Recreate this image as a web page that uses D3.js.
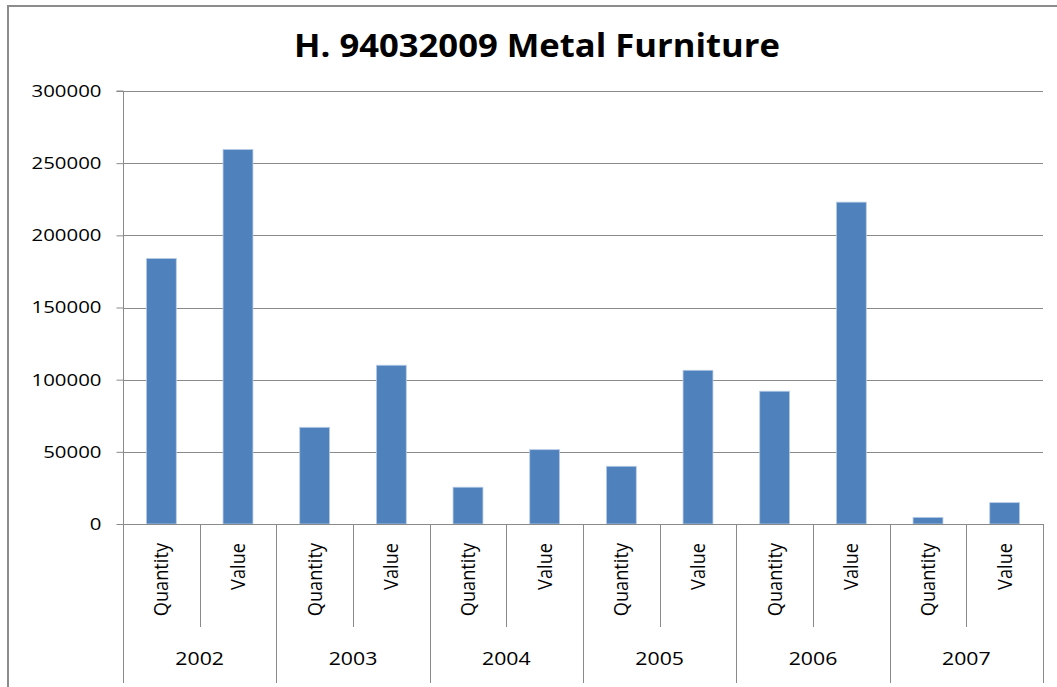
<!DOCTYPE html>
<html>
<head>
<meta charset="utf-8">
<script src="https://cdn.jsdelivr.net/npm/d3@7"></script>
<style>
  html, body { margin: 0; padding: 0; background: #fff; }
  svg { display: block; }
  text { font-family: "Open Sans", "Noto Sans", sans-serif; fill: #000; }
</style>
</head>
<body>
<div id="chart"></div>
<script>
// Yearly import figures for tariff heading 94032009 (metal furniture)
const years = ["2002", "2003", "2004", "2005", "2006", "2007"];
const measures = ["Quantity", "Value"];
const quantityValues = [184000, 67000, 25500, 40000, 92000, 4600];
const valueValues = [259500, 110000, 51500, 106500, 223000, 14800];
const yTicks = [0, 50000, 100000, 150000, 200000, 250000, 300000];
const titleText = "H. 94032009 Metal Furniture";

const W = 1057, H = 687;
const plot = { left: 123, right: 1043, top: 91, bottom: 524 };
const innerTickEnd = 627, groupTickEnd = 683;
const axisGrey = "#8a8a8a";

// flatten into one row per (year, measure)
const rows = [];
years.forEach((yr, i) => {
  rows.push({ key: yr + "|" + measures[0], year: yr, measure: measures[0], v: quantityValues[i] });
  rows.push({ key: yr + "|" + measures[1], year: yr, measure: measures[1], v: valueValues[i] });
});

const svg = d3.select("#chart").append("svg")
  .attr("width", W).attr("height", H);

// chart frame
svg.append("path")
  .attr("d", `M8,${H} L8,6 L${W},6`)
  .attr("fill", "none").attr("stroke", "#8c8c8c").attr("stroke-width", 2);

const x = d3.scaleBand()
  .domain(rows.map(d => d.key))
  .range([plot.left, plot.right])
  .paddingInner(0.61).paddingOuter(0.305);

const slot = d3.scaleBand()
  .domain(rows.map(d => d.key))
  .range([plot.left, plot.right]);

const yearBand = d3.scaleBand()
  .domain(years)
  .range([plot.left, plot.right]);

const y = d3.scaleLinear().domain([0, 300000]).range([plot.bottom, plot.top]);

// horizontal gridlines
svg.append("g").selectAll("line")
  .data(yTicks.filter(t => t > 0))
  .join("line")
  .attr("x1", plot.left).attr("x2", plot.right)
  .attr("y1", d => Math.round(y(d)) + 0.5).attr("y2", d => Math.round(y(d)) + 0.5)
  .attr("stroke", axisGrey).attr("stroke-width", 1);

// value axis
const yAxis = svg.append("g")
  .attr("transform", `translate(${plot.left + 0.5},0)`)
  .call(d3.axisLeft(y).tickValues(yTicks).tickSize(7).tickPadding(15)
    .tickFormat(d3.format("d")));
yAxis.select(".domain").attr("stroke", axisGrey).attr("d", `M-7,${plot.top}H0V${groupTickEnd}`);
yAxis.selectAll(".tick line").attr("stroke", axisGrey);
yAxis.selectAll(".tick text")
  .attr("x", 0)
  .attr("transform", "translate(-22,0) scale(1.2,1)")
  .style("font-size", "17px").style("font-family", "\"Open Sans\", sans-serif")
  .attr("fill", "#000");

// bars
svg.append("g").selectAll("rect")
  .data(rows)
  .join("rect")
  .attr("x", d => x(d.key))
  .attr("width", x.bandwidth())
  .attr("y", d => y(d.v))
  .attr("height", d => y(0) - y(d.v))
  .attr("fill", "#4f81bd")
  .attr("stroke", "#b9cde5").attr("stroke-width", 0.8);

// category axis baseline
svg.append("line")
  .attr("x1", plot.left).attr("x2", plot.right)
  .attr("y1", plot.bottom + 0.5).attr("y2", plot.bottom + 0.5)
  .attr("stroke", axisGrey);

// separators between measures inside a year
svg.append("g").selectAll("line")
  .data(years)
  .join("line")
  .attr("x1", d => Math.round(yearBand(d) + yearBand.bandwidth() / 2) + 0.5)
  .attr("x2", d => Math.round(yearBand(d) + yearBand.bandwidth() / 2) + 0.5)
  .attr("y1", plot.bottom).attr("y2", innerTickEnd)
  .attr("stroke", axisGrey);

// separators between years
svg.append("g").selectAll("line")
  .data(years.slice(1).concat(["end"]))
  .join("line")
  .attr("x1", d => Math.round(d === "end" ? plot.right : yearBand(d)) + 0.5)
  .attr("x2", d => Math.round(d === "end" ? plot.right : yearBand(d)) + 0.5)
  .attr("y1", plot.bottom).attr("y2", groupTickEnd)
  .attr("stroke", axisGrey);

// measure labels, rotated
svg.append("g").selectAll("text")
  .data(rows)
  .join("text")
  .attr("transform", d => `translate(${slot(d.key) + slot.bandwidth() / 2 + 7},543) scale(1.12,1) rotate(-90)`)
  .attr("text-anchor", "end")
  .style("font-size", "18.2px")
  .text(d => d.measure);

// year labels
svg.append("g").selectAll("text")
  .data(years)
  .join("text")
  .attr("transform", d => `translate(${yearBand(d) + yearBand.bandwidth() / 2},665) scale(1.15,1)`)
  .attr("text-anchor", "middle")
  .style("font-size", "18.5px")
  .text(d => d);

// title
svg.append("text")
  .attr("transform", "translate(537,57) scale(1.065,1)")
  .attr("text-anchor", "middle")
  .style("font-size", "32.5px").style("font-weight", "bold")
  .text(titleText);
</script>
</body>
</html>
